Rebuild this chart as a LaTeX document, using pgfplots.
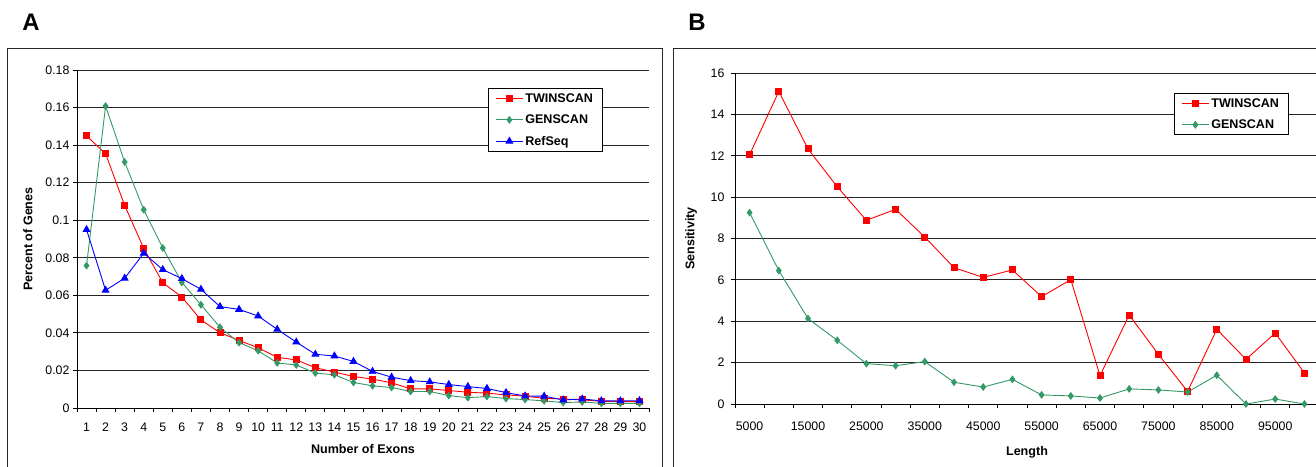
\documentclass[border=0pt]{standalone}
\usepackage{pgfplots}
\pgfplotsset{compat=1.18}
\usepackage{fontspec}
\setmainfont{Liberation Sans}
\definecolor{gsgreen}{RGB}{51,153,102}

\pgfplotsset{
  excel/.style={
    scale only axis, axis x line*=bottom, axis y line*=left,
    axis line style={-, black, line width=0.9bp},
    ymajorgrids, grid style={black!85, line width=0.9bp},
    tick align=outside, major tick length=4bp, minor tick length=4bp,
    major x tick style={draw=none},
    tick style={black, line width=0.8bp},
    tick label style={font=\fontsize{12.4}{14}\selectfont},
    /pgf/number format/assume math mode=true,
    label style={font=\fontsize{12.6}{14}\bfseries},
    legend style={draw=black, fill=white, line width=0.9bp,
      font=\fontsize{12.6}{14}\bfseries, row sep=7bp,
      inner xsep=7bp, inner ysep=3bp},
    legend cell align=left,
    legend image code/.code={\draw[mark repeat=2,mark phase=2]
      plot coordinates {(0bp,0bp)(13.5bp,0bp)(27bp,0bp)};},
  },
  tws/.style={red, line width=0.9bp, mark=square*, mark size=3bp, mark options={solid}},
  gen/.style={gsgreen, line width=0.9bp, mark=diamond*, mark size=3.2bp, mark options={solid}},
  ref/.style={blue, line width=0.9bp, mark=triangle*, mark size=3.8bp, mark options={solid}},
}

\begin{document}
\begin{tikzpicture}
\useasboundingbox (0,0) rectangle (1316bp,467bp);
\draw[line width=1bp, black!85] (7bp,-10bp) rectangle (662bp,418bp);
\draw[line width=1bp, black!85] (673bp,-10bp) rectangle (1330bp,418bp);
\node[font=\fontsize{24}{28}\bfseries] at (31bp,445bp) {A};
\node[font=\fontsize{24}{28}\bfseries] at (697bp,445bp) {B};

% panel A
\begin{axis}[excel,
  at={(77bp,59bp)}, anchor=south west, width=572bp, height=338bp,
  xmin=0.5, xmax=30.5, ymin=0, ymax=0.18,
  xtick={1,...,30}, minor xtick={0.5,1.5,...,30.5},
  ytick={0,0.02,...,0.18},
  yticklabels={0,0.02,0.04,0.06,0.08,0.1,0.12,0.14,0.16,0.18},
  xticklabel style={yshift=-7bp},
  xlabel={Number of Exons}, ylabel={Percent of Genes},
  xlabel style={at={(axis description cs:0.5,0)}, anchor=center, yshift=-41bp},
  ylabel style={at={(axis description cs:-0.0857,0.5)}, anchor=center},
  legend style={at={(0.7185,0.9467)}, anchor=north west},
]
\addplot[tws] coordinates {
(1,0.1449)(2,0.1354)(3,0.1079)(4,0.0850)(5,0.0667)(6,0.0591)(7,0.0469)(8,0.0401)
(9,0.0360)(10,0.0321)(11,0.0270)(12,0.0256)(13,0.0215)(14,0.0191)(15,0.0168)
(16,0.0154)(17,0.0134)(18,0.0102)(19,0.0102)(20,0.0093)(21,0.0084)(22,0.0079)
(23,0.0070)(24,0.0063)(25,0.0052)(26,0.0048)(27,0.0043)(28,0.0036)(29,0.0034)(30,0.0034)};
\addlegendentry{TWINSCAN}
\addplot[gen] coordinates {
(1,0.0758)(2,0.1608)(3,0.1310)(4,0.1056)(5,0.0852)(6,0.0669)(7,0.0550)(8,0.0430)
(9,0.0348)(10,0.0305)(11,0.0240)(12,0.0229)(13,0.0186)(14,0.0177)(15,0.0136)
(16,0.0118)(17,0.0109)(18,0.0088)(19,0.0088)(20,0.0066)(21,0.0055)(22,0.0061)
(23,0.0050)(24,0.0045)(25,0.0038)(26,0.0029)(27,0.0032)(28,0.0025)(29,0.0025)(30,0.0025)};
\addlegendentry{GENSCAN}
\addplot[ref] coordinates {
(1,0.0950)(2,0.0627)(3,0.0691)(4,0.0824)(5,0.0737)(6,0.0689)(7,0.0632)(8,0.0540)
(9,0.0525)(10,0.0490)(11,0.0419)(12,0.0351)(13,0.0286)(14,0.0277)(15,0.0248)
(16,0.0195)(17,0.0164)(18,0.0146)(19,0.0139)(20,0.0125)(21,0.0114)(22,0.0104)
(23,0.0082)(24,0.0064)(25,0.0063)(26,0.0043)(27,0.0048)(28,0.0038)(29,0.0038)(30,0.0039)};
\addlegendentry{RefSeq}
\end{axis}

% panel B
\begin{axis}[excel,
  at={(735bp,63bp)}, anchor=south west, width=584bp, height=331bp,
  xmin=0.5, xmax=20.5, ymin=0, ymax=16,
  xtick={1,3,...,19}, minor xtick={0.5,1.5,...,20.5},
  xticklabels={5000,15000,25000,35000,45000,55000,65000,75000,85000,95000},
  ytick={0,2,...,16},
  xticklabel style={yshift=-10bp},
  yticklabel style={xshift=-3bp},
  xlabel={Length}, ylabel={Sensitivity},
  xlabel style={at={(axis description cs:0.5,0)}, anchor=center, yshift=-48bp},
  ylabel style={at={(axis description cs:-0.0753,0.5)}, anchor=center},
  legend style={at={(0.7517,0.9396)}, anchor=north west},
]
\addplot[tws] coordinates {
(1,12.05)(2,15.11)(3,12.33)(4,10.50)(5,8.88)(6,9.41)(7,8.07)(8,6.59)(9,6.12)(10,6.48)
(11,5.19)(12,6.01)(13,1.37)(14,4.30)(15,2.40)(16,0.61)(17,3.61)(18,2.16)(19,3.43)(20,1.50)};
\addlegendentry{TWINSCAN}
\addplot[gen] coordinates {
(1,9.25)(2,6.45)(3,4.13)(4,3.08)(5,1.95)(6,1.85)(7,2.05)(8,1.05)(9,0.82)(10,1.19)
(11,0.44)(12,0.39)(13,0.29)(14,0.73)(15,0.68)(16,0.58)(17,1.39)(18,0.00)(19,0.24)(20,0.00)};
\addlegendentry{GENSCAN}
\end{axis}
\end{tikzpicture}
\end{document}
